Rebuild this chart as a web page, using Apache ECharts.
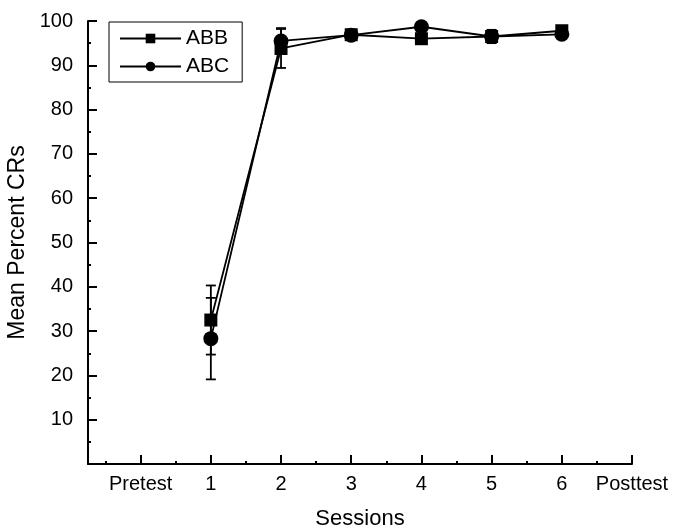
<!DOCTYPE html>
<html>
<head>
<meta charset="utf-8">
<script src="https://cdn.jsdelivr.net/npm/echarts@6/dist/echarts.min.js"></script>
<style>
html,body{margin:0;padding:0;background:#fff;}
#chart{width:675px;height:527px;}
</style>
</head>
<body>
<div id="chart"></div>
<script>
// ---- data ----
var xTickLabels = ['Pretest', '1', '2', '3', '4', '5', '6', 'Posttest'];
var sessions = [1, 2, 3, 4, 5, 6];
var abbMean = [32.5, 93.8, 96.9, 96.0, 96.5, 97.8];
var abbErr  = [7.8, 4.4, 1.0, 1.0, 1.5, 0.8];
var abcMean = [28.3, 95.5, 96.8, 98.7, 96.5, 97.0];
var abcErr  = [9.2, 2.9, 1.0, 1.0, 1.0, 0.8];
var yTickValues = [10, 20, 30, 40, 50, 60, 70, 80, 90, 100];

var FONT = 'Liberation Sans, Arial, Helvetica, sans-serif';

function pairs(xs, ys) { return xs.map(function (x, i) { return [x, ys[i]]; }); }
function errData(xs, ys, es) { return xs.map(function (x, i) { return [x, ys[i] - es[i], ys[i] + es[i]]; }); }

function renderErr(params, api) {
  var x = api.value(0);
  var lo = api.coord([x, api.value(1)]);
  var hi = api.coord([x, api.value(2)]);
  var w = 5;
  var st = { stroke: '#000', lineWidth: 1.8 };
  return {
    type: 'group',
    children: [
      { type: 'line', shape: { x1: lo[0], y1: lo[1], x2: hi[0], y2: hi[1] }, style: st },
      { type: 'line', shape: { x1: lo[0] - w, y1: lo[1], x2: lo[0] + w, y2: lo[1] }, style: st },
      { type: 'line', shape: { x1: hi[0] - w, y1: hi[1], x2: hi[0] + w, y2: hi[1] }, style: st }
    ]
  };
}

var majorX = xTickLabels.map(function (_, i) { return i; });
var minorX = [-0.5, 0.5, 1.5, 2.5, 3.5, 4.5, 5.5, 6.5];

var chart = echarts.init(document.getElementById('chart'), null, { renderer: 'canvas' });
chart.setOption({
  animation: false,
  backgroundColor: '#fff',
  textStyle: { fontFamily: FONT, color: '#000' },
  grid: { left: 88, right: 43, top: 21, bottom: 63, containLabel: false, outerBoundsMode: 'none' },
  legend: {
    data: ['ABB', 'ABC'],
    orient: 'vertical',
    left: 109,
    top: 22,
    padding: [6, 13, 5, 10],
    itemGap: 7,
    itemWidth: 61,
    itemHeight: 12,
    borderColor: '#000',
    borderWidth: 1,
    borderRadius: 0,
    textStyle: { fontFamily: FONT, fontSize: 21, color: '#000' }
  },
  xAxis: [{
    type: 'value',
    min: -0.75,
    max: 7,
    name: 'Sessions',
    nameLocation: 'middle',
    nameGap: 44,
    nameTextStyle: { fontFamily: FONT, fontSize: 22, color: '#000' },
    axisLine: { show: true, onZero: false, lineStyle: { color: '#000', width: 2 } },
    axisTick: { show: true, inside: true, length: 9, customValues: majorX, lineStyle: { color: '#000', width: 2 } },
    axisLabel: {
      customValues: majorX,
      margin: 10,
      fontFamily: FONT, fontSize: 20, color: '#000',
      formatter: function (v) { return xTickLabels[Math.round(v)] || ''; }
    },
    splitLine: { show: false }
  }, {
    type: 'value',
    min: -0.75,
    max: 7,
    position: 'bottom',
    axisLine: { show: false, onZero: false },
    axisTick: { show: true, inside: true, length: 3, customValues: minorX, lineStyle: { color: '#000', width: 2 } },
    axisLabel: { show: false },
    splitLine: { show: false }
  }],
  yAxis: {
    type: 'value',
    min: 0,
    max: 100,
    interval: 10,
    name: 'Mean Percent CRs',
    nameLocation: 'middle',
    nameRotate: 90,
    nameGap: 55,
    nameTextStyle: { fontFamily: FONT, fontSize: 23, color: '#000' },
    axisLine: { show: true, onZero: false, lineStyle: { color: '#000', width: 2 } },
    axisTick: { show: true, inside: true, length: 9, lineStyle: { color: '#000', width: 2 } },
    minorTick: { show: true, splitNumber: 2, length: 3, lineStyle: { color: '#000', width: 2 } },
    axisLabel: {
      margin: 15,
      fontFamily: FONT, fontSize: 20, color: '#000',
      formatter: function (v) { return yTickValues.indexOf(v) >= 0 ? String(v) : ''; }
    },
    splitLine: { show: false },
    minorSplitLine: { show: false }
  },
  series: [
    {
      name: 'ABB err', type: 'custom', xAxisIndex: 0, renderItem: renderErr,
      data: errData(sessions, abbMean, abbErr), z: 1, silent: true
    },
    {
      name: 'ABC err', type: 'custom', xAxisIndex: 0, renderItem: renderErr,
      data: errData(sessions, abcMean, abcErr), z: 1, silent: true
    },
    {
      name: 'ABB', type: 'line', xAxisIndex: 0,
      data: pairs(sessions, abbMean),
      symbol: 'rect', symbolSize: 13,
      itemStyle: { color: '#000' },
      lineStyle: { color: '#000', width: 1.8 },
      z: 3
    },
    {
      name: 'ABC', type: 'line', xAxisIndex: 0,
      data: pairs(sessions, abcMean),
      symbol: 'circle', symbolSize: 15,
      itemStyle: { color: '#000' },
      lineStyle: { color: '#000', width: 1.8 },
      z: 3
    }
  ]
});
</script>
</body>
</html>
